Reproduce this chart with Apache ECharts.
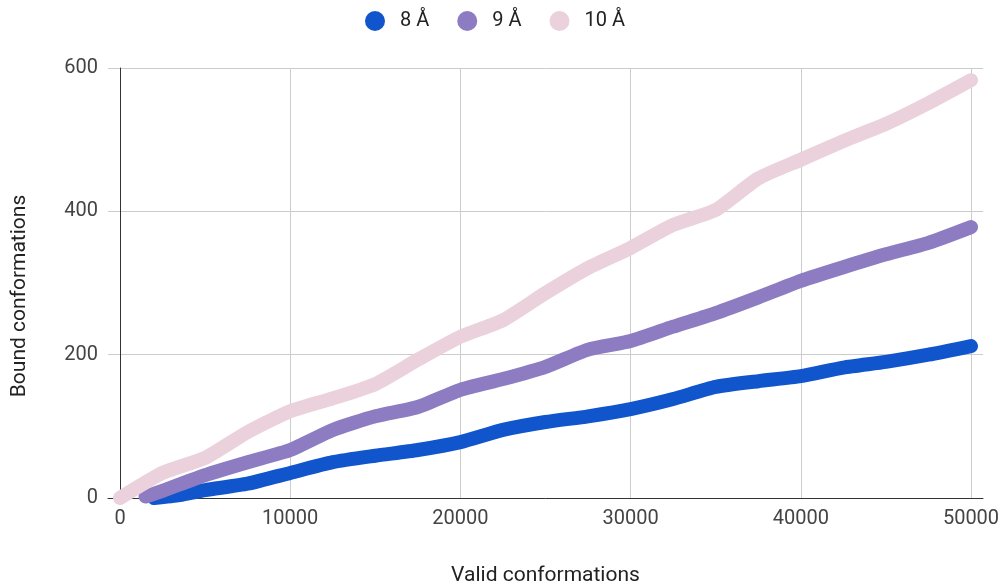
<!DOCTYPE html>
<html>
<head>
<meta charset="utf-8">
<script src="https://cdn.jsdelivr.net/npm/echarts@6/dist/echarts.min.js"></script>
<style>
  html, body { margin: 0; padding: 0; background: #fff; }
  #chart { width: 1003px; height: 586px; }
</style>
</head>
<body>
<div id="chart"></div>
<script>
// Cumulative bound conformations vs. valid conformations, per distance cutoff
const seriesNames = ['8 Å', '9 Å', '10 Å'];
const seriesColors = ['#1155cc', '#8e7cc3', '#ead1dc'];

const validA8 = [2000, 3500, 5000, 7500, 10000, 12500, 15000, 17500, 20000, 22500, 25000, 27500, 30000, 32500, 35000, 37500, 40000, 42500, 45000, 47500, 50000];
const boundA8 = [0, 4, 11, 20, 35, 50, 59, 67, 78, 95, 106, 114, 124, 138, 155, 163, 170, 182, 190, 200, 212];

const validA9 = [1500, 2500, 5000, 7500, 10000, 12500, 15000, 17500, 20000, 22500, 25000, 27500, 30000, 32500, 35000, 37500, 40000, 42500, 45000, 47500, 50000];
const boundA9 = [2, 10, 32, 50, 67, 95, 114, 127, 151, 166, 183, 207, 219, 239, 258, 280, 303, 322, 340, 356, 378];

const validA10 = [0, 2500, 5000, 7500, 10000, 12500, 15000, 17500, 20000, 22500, 25000, 27500, 30000, 32500, 35000, 37500, 40000, 42500, 45000, 47500, 50000];
const boundA10 = [0, 35, 56, 92, 121, 139, 159, 193, 225, 248, 286, 321, 349, 381, 402, 446, 472, 498, 522, 551, 583];

const xTicks = [0, 10000, 20000, 30000, 40000, 50000];

const pairs = (xs, ys) => xs.map((x, i) => [x, ys[i]]);
const seriesData = [pairs(validA8, boundA8), pairs(validA9, boundA9), pairs(validA10, boundA10)];

const FONT = 'Roboto, "Liberation Sans", Arial, sans-serif';

const chart = echarts.init(document.getElementById('chart'), null, { renderer: 'canvas' });

chart.setOption({
  animation: false,
  backgroundColor: '#ffffff',
  textStyle: { fontFamily: FONT },
  legend: {
    top: 11,
    left: 365,
    padding: 0,
    icon: 'circle',
    itemWidth: 20,
    itemHeight: 20,
    itemGap: 28,
    data: seriesNames,
    textStyle: { fontFamily: FONT, fontSize: 20, color: '#222', padding: [0, 0, 0, 10] }
  },
  grid: { left: 108, right: 20, top: 68, bottom: 88, containLabel: false, outerBoundsMode: 'none' },
  xAxis: {
    type: 'value',
    min: -705,
    max: 50705,
    name: 'Valid conformations',
    nameLocation: 'middle',
    nameGap: 67,
    nameTextStyle: { fontFamily: FONT, fontSize: 21, color: '#222' },
    axisLine: { show: true, onZero: false, lineStyle: { color: '#333', width: 1 } },
    axisTick: { show: false, customValues: xTicks },
    axisLabel: {
      customValues: xTicks,
      margin: 11,
      fontFamily: FONT,
      fontSize: 20,
      color: '#444',
      formatter: (v) => String(v)
    },
    splitLine: { show: true, lineStyle: { color: '#cccccc', width: 1 } }
  },
  yAxis: {
    type: 'value',
    min: 0,
    max: 600,
    interval: 200,
    name: 'Bound conformations',
    nameLocation: 'middle',
    nameGap: 78,
    nameTextStyle: { fontFamily: FONT, fontSize: 21, color: '#222', padding: [0, 26, 0, 0] },
    axisLine: { show: true, onZero: true, lineStyle: { color: '#333', width: 1 } },
    axisTick: { show: false },
    axisLabel: { margin: 10, fontFamily: FONT, fontSize: 20, color: '#444' },
    splitLine: { show: true, lineStyle: { color: '#cccccc', width: 1 } }
  },
  series: seriesNames.map((name, i) => ({
    name: name,
    type: 'line',
    data: seriesData[i],
    showSymbol: false,
    symbol: 'circle',
    smooth: 0.2,
    color: seriesColors[i],
    lineStyle: { width: 14, cap: 'round', join: 'round', color: seriesColors[i] },
    itemStyle: { color: seriesColors[i] },
    z: 2
  }))
});
</script>
</body>
</html>
